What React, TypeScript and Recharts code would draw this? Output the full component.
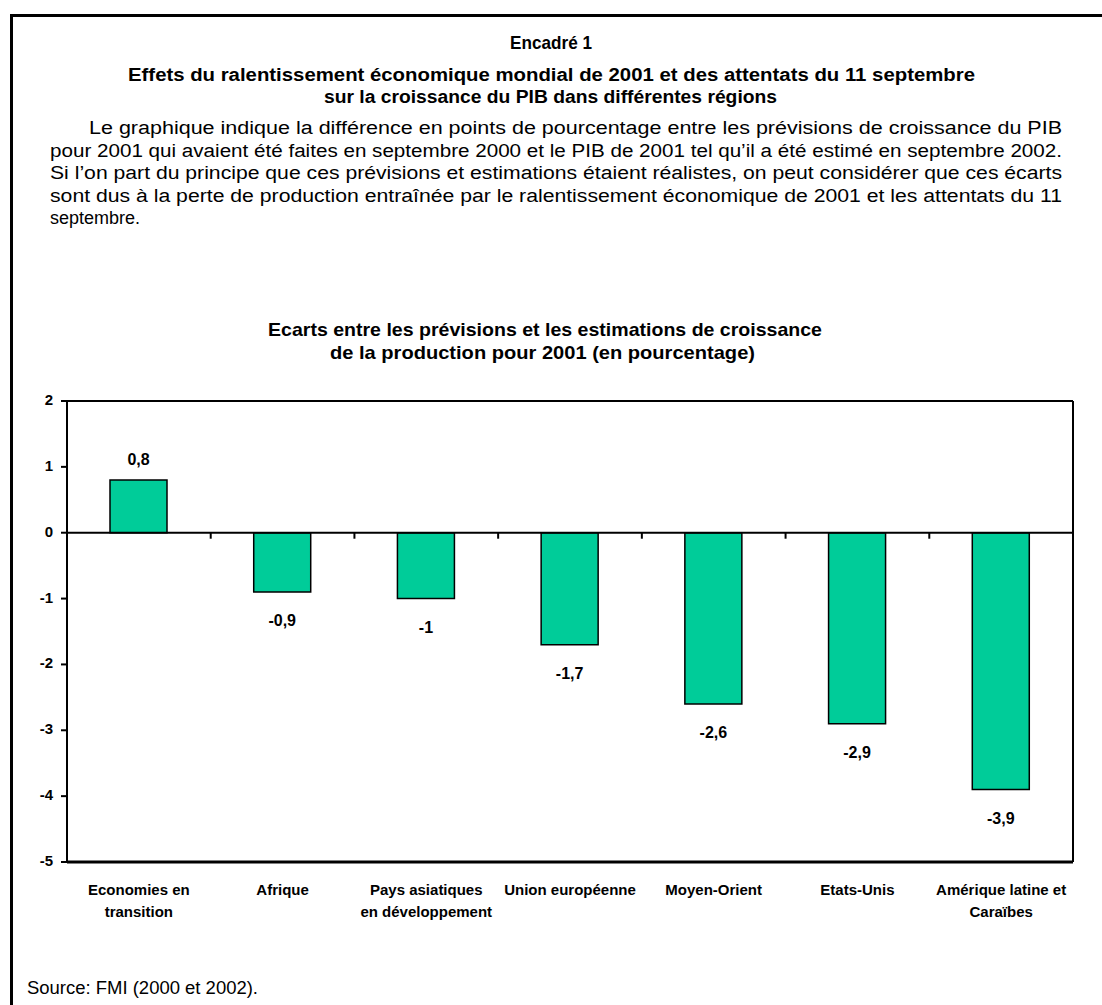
import * as React from "react"
import {
  BarChart,
  Bar,
  XAxis,
  YAxis,
  CartesianGrid,
  ReferenceLine,
  LabelList,
} from "recharts"

const categories = [
  "Economies en\ntransition",
  "Afrique",
  "Pays asiatiques\nen développement",
  "Union européenne",
  "Moyen-Orient",
  "Etats-Unis",
  "Amérique latine et\nCaraïbes",
]
const ecarts = [0.8, -0.9, -1, -1.7, -2.6, -2.9, -3.9]
const yTicks = [2, 1, 0, -1, -2, -3, -4, -5]

const paragraphLines = [
  "Le graphique indique la différence en points de pourcentage entre les prévisions de croissance du PIB",
  "pour 2001 qui avaient été faites en septembre 2000 et le PIB de 2001 tel qu’il a été estimé en septembre 2002.",
  "Si l’on part du principe que ces prévisions et estimations étaient réalistes, on peut considérer que ces écarts",
  "sont dus à la perte de production entraînée par le ralentissement économique de 2001 et les attentats du 11",
  "septembre.",
]

const data = categories.map((name, i) => ({ name, value: ecarts[i] }))

const FONT = "'Liberation Sans', Arial, sans-serif"
const BAR_COLOR = "#00CC99"

const formatFr = (v: number) => String(v).replace(".", ",")

function CategoryTick(props: any) {
  const { x, y, payload } = props
  const lines = String(payload.value).split("\n")
  return (
    <text
      x={x}
      y={y + 25}
      textAnchor="middle"
      fontFamily={FONT}
      fontSize={15}
      fontWeight="bold"
      fill="#000"
    >
      {lines.map((l, i) => (
        <tspan key={i} x={x} dy={i === 0 ? 0 : 22}>
          {l}
        </tspan>
      ))}
    </text>
  )
}

function YTick(props: any) {
  const { x, y, payload } = props
  return (
    <text
      x={x - 6}
      y={y}
      textAnchor="end"
      dominantBaseline="middle"
      fontFamily={FONT}
      fontSize={15}
      fontWeight="bold"
      fill="#000"
    >
      {payload.value}
    </text>
  )
}

function ValueLabel(props: any) {
  const { x, y, width, height, value } = props
  const top = Math.min(y, y + height)
  const bottom = Math.max(y, y + height)
  const cy = value >= 0 ? top - 19 : bottom + 30
  return (
    <text
      x={x + width / 2}
      y={cy}
      textAnchor="middle"
      dominantBaseline="middle"
      fontFamily={FONT}
      fontSize={16}
      fontWeight="bold"
      fill="#000"
    >
      {formatFr(value)}
    </text>
  )
}

// zero line with the category boundary ticks hanging below it
function ZeroAxis(props: any) {
  const { x1, x2, y1 } = props
  const n = categories.length
  const step = (x2 - x1) / n
  return (
    <g>
      <line x1={x1} x2={x2} y1={y1} y2={y1} stroke="#000" strokeWidth={2} />
      {categories.map((_, i) => (
        <line
          key={i}
          x1={x1 + step * (i + 1)}
          x2={x1 + step * (i + 1)}
          y1={y1}
          y2={y1 + 6}
          stroke="#000"
          strokeWidth={2}
        />
      ))}
    </g>
  )
}

export default function App() {
  return (
    <div
      style={{
        position: "absolute",
        left: 0,
        top: 0,
        width: 1102,
        height: 1005,
        background: "#fff",
        overflow: "hidden",
        fontFamily: FONT,
        color: "#000",
      }}
    >
      {/* frame: left and top rules */}
      <div
        style={{
          position: "absolute",
          left: 10,
          top: 14,
          width: 1102,
          height: 1005,
          borderLeft: "3px solid #000",
          borderTop: "3px solid #000",
        }}
      />

      <svg
        width={1102}
        height={380}
        style={{ position: "absolute", left: 0, top: 0 }}
        fontFamily={FONT}
      >
        <text x={510} y={49} fontSize={19} fontWeight="bold" textLength={82} lengthAdjust="spacingAndGlyphs">
          Encadré 1
        </text>
        <text x={128} y={81} fontSize={18} fontWeight="bold" textLength={847} lengthAdjust="spacingAndGlyphs">
          Effets du ralentissement économique mondial de 2001 et des attentats du 11 septembre
        </text>
        <text x={324} y={103} fontSize={18} fontWeight="bold" textLength={453} lengthAdjust="spacingAndGlyphs">
          sur la croissance du PIB dans différentes régions
        </text>
        {paragraphLines.map((line, i) => {
          const last = i === paragraphLines.length - 1
          const x = i === 0 ? 89 : 50
          return (
            <text
              key={i}
              x={x}
              y={134 + i * 22.6}
              fontSize={18}
              textLength={last ? undefined : 1062 - x}
              lengthAdjust="spacingAndGlyphs"
            >
              {line}
            </text>
          )
        })}
        <text x={268} y={336} fontSize={19} fontWeight="bold" textLength={554} lengthAdjust="spacingAndGlyphs">
          Ecarts entre les prévisions et les estimations de croissance
        </text>
        <text x={330} y={359} fontSize={19} fontWeight="bold" textLength={425} lengthAdjust="spacingAndGlyphs">
          de la production pour 2001 (en pourcentage)
        </text>
      </svg>

      <div style={{ position: "absolute", left: 0, top: 380 }}>
        <BarChart
          width={1102}
          height={560}
          data={data}
          margin={{ top: 21, right: 19, left: 17, bottom: 0 }}
          barSize={57}
        >
          <CartesianGrid horizontal vertical={false} stroke="#000" strokeWidth={2} />
          <XAxis
            dataKey="name"
            interval={0}
            height={78}
            axisLine={{ stroke: "#000", strokeWidth: 3 }}
            tickLine={false}
            tick={<CategoryTick />}
          />
          <YAxis
            yAxisId="left"
            domain={[-5, 2]}
            ticks={yTicks}
            width={50}
            interval={0}
            axisLine={{ stroke: "#000", strokeWidth: 2 }}
            tickLine={{ stroke: "#000", strokeWidth: 2 }}
            tickSize={6}
            tick={<YTick />}
          />
          <YAxis
            yAxisId="right"
            orientation="right"
            domain={[-5, 2]}
            ticks={yTicks}
            width={10}
            interval={0}
            axisLine={{ stroke: "#000", strokeWidth: 2 }}
            tickLine={{ stroke: "#000", strokeWidth: 2 }}
            tickSize={3}
            tickFormatter={() => ""}
          />
          <ReferenceLine yAxisId="left" y={0} shape={<ZeroAxis />} />
          <Bar
            yAxisId="left"
            dataKey="value"
            fill={BAR_COLOR}
            stroke="#000"
            strokeWidth={1.5}
            isAnimationActive={false}
          >
            <LabelList dataKey="value" content={<ValueLabel />} />
          </Bar>
        </BarChart>
      </div>

      <svg
        width={400}
        height={30}
        style={{ position: "absolute", left: 0, top: 975 }}
        fontFamily={FONT}
      >
        <text x={27} y={19} fontSize={18} textLength={231} lengthAdjust="spacingAndGlyphs">
          Source: FMI (2000 et 2002).
        </text>
      </svg>
    </div>
  )
}
